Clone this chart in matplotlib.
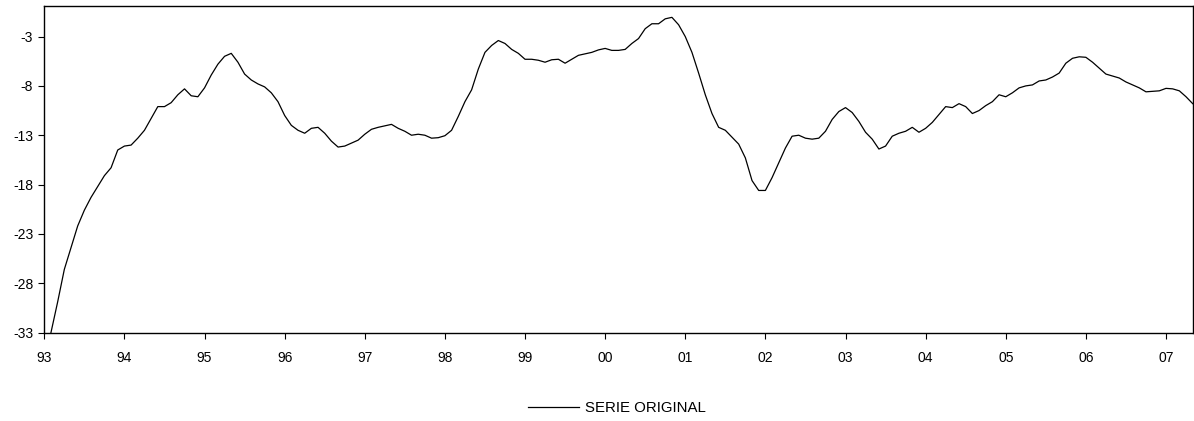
import matplotlib
matplotlib.use("Agg")
import matplotlib.pyplot as plt
import numpy as np

# Serie mensual desde enero de 1993
start_year = 1993
serie_original = [
    -36.5, -33.0, -29.9, -26.6, -24.4, -22.2, -20.6, -19.3, -18.2, -17.1, -16.3, -14.5,   # 93
    -14.1, -14.0, -13.3, -12.5, -11.3, -10.1, -10.1, -9.7, -8.9, -8.3, -9.0, -9.1,         # 94
    -8.2, -6.9, -5.8, -5.0, -4.7, -5.6, -6.8, -7.4, -7.8, -8.1, -8.7, -9.6,                # 95
    -11.0, -12.0, -12.5, -12.8, -12.3, -12.2, -12.8, -13.6, -14.2, -14.1, -13.8, -13.5,    # 96
    -12.9, -12.4, -12.2, -12.05, -11.9, -12.3, -12.6, -13.0, -12.9, -13.0, -13.3, -13.25,  # 97
    -13.05, -12.5, -11.1, -9.6, -8.4, -6.3, -4.6, -3.9, -3.4, -3.7, -4.3, -4.7,            # 98
    -5.3, -5.3, -5.4, -5.6, -5.35, -5.3, -5.7, -5.3, -4.9, -4.75, -4.6, -4.35,             # 99
    -4.2, -4.4, -4.4, -4.3, -3.7, -3.2, -2.2, -1.7, -1.7, -1.2, -1.05, -1.8,               # 00
    -3.0, -4.6, -6.7, -8.9, -10.8, -12.2, -12.5, -13.2, -13.9, -15.3, -17.6, -18.6,        # 01
    -18.6, -17.3, -15.8, -14.3, -13.1, -13.0, -13.3, -13.4, -13.3, -12.6, -11.4, -10.6,    # 02
    -10.2, -10.7, -11.6, -12.7, -13.4, -14.4, -14.1, -13.1, -12.8, -12.6, -12.2, -12.7,    # 03
    -12.3, -11.7, -10.9, -10.1, -10.2, -9.8, -10.1, -10.8, -10.5, -10.0, -9.6, -8.9,       # 04
    -9.1, -8.7, -8.2, -8.0, -7.9, -7.5, -7.4, -7.1, -6.7, -5.7, -5.2, -5.05,               # 05
    -5.1, -5.6, -6.2, -6.8, -7.0, -7.2, -7.6, -7.9, -8.2, -8.6, -8.55, -8.5,               # 06
    -8.25, -8.3, -8.5, -9.1, -9.8,                                                         # 07
]
year_ticks = list(range(1993, 2008))
year_labels = [f"{y % 100:02d}" for y in year_ticks]
y_ticks = [-33, -28, -23, -18, -13, -8, -3]

x = start_year + np.arange(len(serie_original)) / 12.0

plt.rcParams["font.family"] = ["Liberation Sans", "DejaVu Sans"]

fig = plt.figure(figsize=(11.94, 4.21), dpi=100)
ax = fig.add_axes([44.3 / 1194, 1 - 332.5 / 421, (1192.7 - 44.3) / 1194, (332.5 - 6) / 421])

ax.plot(x, serie_original, color="black", linewidth=0.9, label="SERIE ORIGINAL")

ax.set_xlim(start_year, start_year + (len(serie_original) - 1) / 12.0)
ax.set_ylim(-33, 0.1)
ax.set_xticks(year_ticks)
ax.set_xticklabels(year_labels)
ax.set_yticks(y_ticks)
ax.set_yticklabels([str(v) for v in y_ticks])
ax.tick_params(axis="both", direction="out", length=4, width=0.8, labelsize=10,
               colors="black")
ax.tick_params(axis="x", pad=9)
ax.tick_params(axis="y", pad=4)
for s in ax.spines.values():
    s.set_linewidth(1.0)
    s.set_color("black")

fig.legend(loc="center", bbox_to_anchor=(617 / 1194, 1 - 408 / 421), frameon=False,
           fontsize=10.8, handlelength=3.4, handletextpad=0.35)

fig.savefig("out.png", dpi=100)
